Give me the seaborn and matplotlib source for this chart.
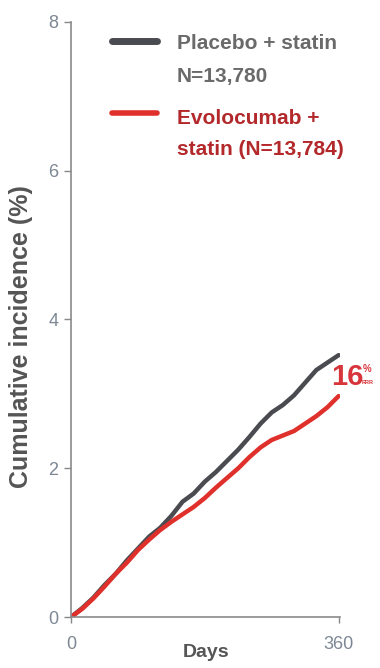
import matplotlib
matplotlib.use("Agg")
import matplotlib.pyplot as plt
import seaborn as sns
import pandas as pd

days = [0, 15, 30, 45, 60, 75, 90, 105, 120, 135, 150, 165, 180, 195, 210, 225, 240, 255, 270, 285, 300, 315, 330, 345, 360]
placebo = [0, 0.12, 0.26, 0.43, 0.58, 0.76, 0.92, 1.08, 1.20, 1.36, 1.55, 1.66, 1.82, 1.95, 2.10, 2.25, 2.42, 2.60, 2.75, 2.85, 2.98, 3.15, 3.32, 3.42, 3.52]
evolocumab = [0, 0.11, 0.25, 0.41, 0.58, 0.73, 0.90, 1.04, 1.17, 1.28, 1.38, 1.48, 1.60, 1.74, 1.87, 2.00, 2.15, 2.28, 2.38, 2.44, 2.50, 2.60, 2.70, 2.82, 2.97]
series_labels = ["Placebo + statin\nN=13,780", "Evolocumab +\nstatin (N=13,784)"]
y_ticks = [0, 2, 4, 6, 8]
x_ticks = [0, 360]
reduction = "16"

sns.set_theme(style="white")
plt.rcParams["font.family"] = ["Liberation Sans", "DejaVu Sans"]

df = pd.concat([
    pd.DataFrame({"Days": days, "Incidence": placebo, "Group": series_labels[0]}),
    pd.DataFrame({"Days": days, "Incidence": evolocumab, "Group": series_labels[1]}),
])

gray_line = "#4a4b50"
red_line = "#e0302c"
gray_text = "#6a6a6a"
red_text = "#b3282a"
tick_col = "#7d8794"

fig = plt.figure(figsize=(3.8, 6.68), dpi=100)
ax = fig.add_axes([0.187, 0.0763, 0.708, 0.891])
sns.lineplot(data=df, x="Days", y="Incidence", hue="Group",
             palette={series_labels[0]: gray_line, series_labels[1]: red_line},
             linewidth=3.2, ax=ax, legend=False)

ax.set_xlim(0, 362)
ax.set_ylim(0, 8)
ax.set_yticks(y_ticks)
ax.set_xticks(x_ticks)
ax.set_yticklabels([str(t) for t in y_ticks], fontsize=13, color=tick_col)
ax.set_xticklabels([str(t) for t in x_ticks], fontsize=13, color=tick_col)
ax.tick_params(axis="y", length=5, width=1, color="#888888", left=True, pad=4)
ax.tick_params(axis="x", length=4, width=1, color="#888888", bottom=True, pad=10)
for s in ["top", "right"]:
    ax.spines[s].set_visible(False)
for s in ["left", "bottom"]:
    ax.spines[s].set_color("#8a8a8a")
    ax.spines[s].set_linewidth(1.2)

ax.set_xlabel("Days", fontsize=14, fontweight="bold", color="#555555")
ax.xaxis.set_label_coords(0.5, -0.045)
ax.set_ylabel("Cumulative incidence (%)", fontsize=18, fontweight="bold", color="#555555")
ax.yaxis.set_label_coords(-0.141, 0.472)

# legend-like annotation
fig.lines.append(plt.Line2D([112/380, 157/380], [1-41/668, 1-41/668], transform=fig.transFigure,
                            color=gray_line, linewidth=5))
fig.lines.append(plt.Line2D([112/380, 157/380], [1-113/668, 1-113/668], transform=fig.transFigure,
                            color=red_line, linewidth=4))
fig.text(177/380, 1-60/668, series_labels[0], fontsize=15, fontweight="bold",
         color=gray_text, va="center", ha="left", linespacing=1.95)
fig.text(177/380, 1-134/668, series_labels[1], fontsize=15, fontweight="bold",
         color=red_text, va="center", ha="left", linespacing=1.8)

fig.text(331/380, 1-377/668, reduction, fontsize=21, fontweight="bold",
         color="#d8343c", va="center", ha="left")
fig.text(363/380, 1-369/668, "%", fontsize=7, fontweight="bold",
         color="#d8343c", va="center", ha="left")
fig.text(362/380, 1-383/668, "RRR", fontsize=4, fontweight="bold",
         color="#d8343c", va="center", ha="left")

fig.savefig("out.png", dpi=100)
